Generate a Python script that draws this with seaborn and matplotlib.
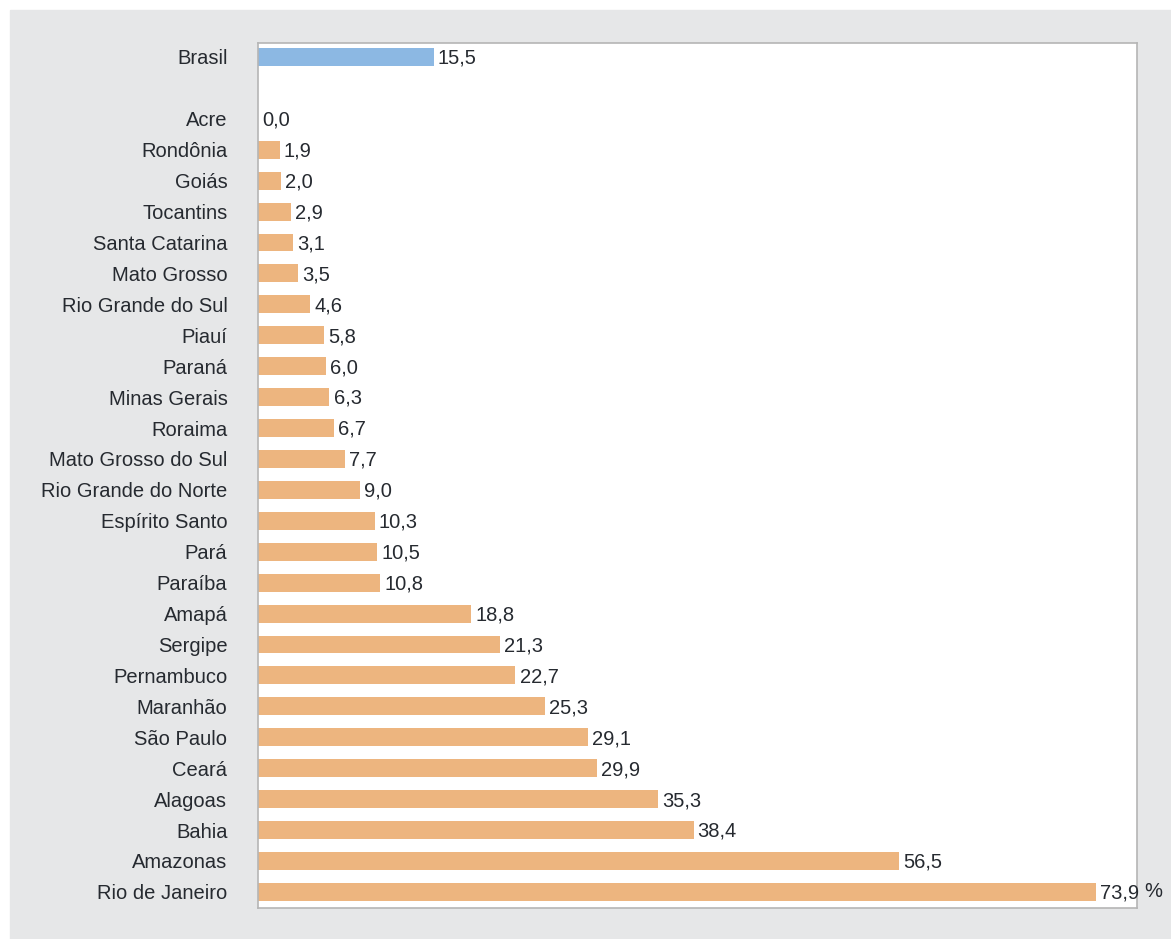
import numpy as np
import pandas as pd
import matplotlib.pyplot as plt
import seaborn as sns
from matplotlib.patches import Rectangle

regioes = ["Brasil", "", "Acre", "Rondônia", "Goiás", "Tocantins", "Santa Catarina",
           "Mato Grosso", "Rio Grande do Sul", "Piauí", "Paraná", "Minas Gerais",
           "Roraima", "Mato Grosso do Sul", "Rio Grande do Norte", "Espírito Santo",
           "Pará", "Paraíba", "Amapá", "Sergipe", "Pernambuco", "Maranhão",
           "São Paulo", "Ceará", "Alagoas", "Bahia", "Amazonas", "Rio de Janeiro"]
valores = [15.5, np.nan, 0.0, 1.9, 2.0, 2.9, 3.1, 3.5, 4.6, 5.8, 6.0, 6.3, 6.7, 7.7,
           9.0, 10.3, 10.5, 10.8, 18.8, 21.3, 22.7, 25.3, 29.1, 29.9, 35.3, 38.4,
           56.5, 73.9]
grupos = ["Brasil", "Estados"] + ["Estados"] * (len(regioes) - 2)

df = pd.DataFrame({"regiao": regioes, "valor": valores, "grupo": grupos})

sns.set_style("white")
plt.rcParams['font.family'] = ['Liberation Sans', 'DejaVu Sans']

fig = plt.figure(figsize=(11.71, 9.39), dpi=100)
fig.patches.append(Rectangle((10 / 1171, 0), 1 - 10 / 1171, 1 - 10 / 939,
                             transform=fig.transFigure, color="#e6e7e8", zorder=-10))
ax = fig.add_axes([258 / 1171, 1 - 908 / 939, 879 / 1171, 865 / 939])

sns.barplot(data=df, y="regiao", x="valor", hue="grupo", order=regioes,
            palette={"Brasil": "#8cb8e3", "Estados": "#edb57f"},
            dodge=False, width=0.58, saturation=1, linewidth=0,
            legend=False, ax=ax)

cor_texto = "#262a30"
for i, v in enumerate(valores):
    if np.isnan(v):
        continue
    ax.annotate(f"{v:.1f}".replace(".", ","), (v, i), xytext=(3, -1),
                textcoords="offset points", va="center", ha="left",
                fontsize=14.5, color=cor_texto)

ax.set_xlim(0, 77.5)
ax.set_ylim(len(regioes) - 1 + 0.52, -0.45)
ax.set_xlabel("")
ax.set_ylabel("")
ax.set_xticks([])
ax.tick_params(axis="y", length=0, pad=22, labelsize=14.5, labelcolor=cor_texto)
for s in ax.spines.values():
    s.set_color("#b5b5b5")
    s.set_linewidth(1.2)

ax.text(1.008, len(regioes) - 1, "%", transform=ax.get_yaxis_transform(),
        va="center", ha="left", fontsize=14.5, color=cor_texto)

fig.savefig("out.png", dpi=100)
